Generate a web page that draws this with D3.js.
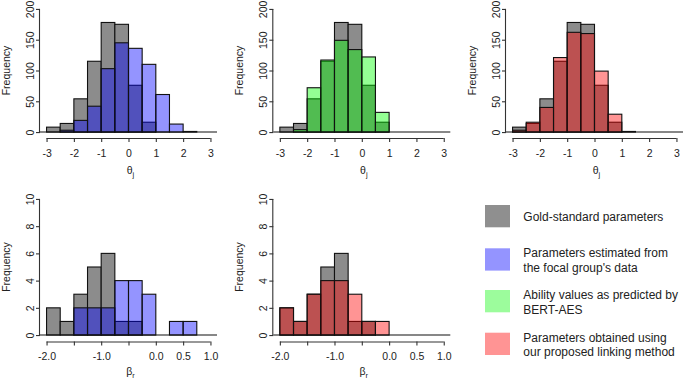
<!DOCTYPE html>
<html>
<head>
<meta charset="utf-8">
<script src="https://cdn.jsdelivr.net/npm/d3@7"></script>
<style>
  html, body { margin: 0; padding: 0; background: #fff; }
  svg { display: block; font-family: "Liberation Sans", Arial, sans-serif; }
</style>
</head>
<body>
<script>
// 直方图的分箱边界
const thetaBreaks = d3.range(-3, 3.01, 0.5);
const betaBreaks = d3.range(-2, 1.01, 0.25);

// 各分箱的频数
const goldTheta  = [8, 14, 54, 115, 178, 175, 76, 16, 0, 0, 0, 0];
const focalTheta = [0, 3, 19, 42, 103, 145, 136, 110, 61, 13, 1, 0];
const bertTheta  = [0, 4, 72, 117, 149, 134, 122, 32, 0, 0, 0, 0];
const linkTheta  = [3, 16, 40, 121, 162, 160, 99, 29, 1, 0, 0, 0];

const goldBeta  = [2, 1, 3, 5, 6, 1, 1, 0, 0, 0, 0, 0];
const focalBeta = [0, 0, 2, 2, 2, 4, 4, 3, 0, 1, 1, 0];
const linkBeta  = [2, 1, 3, 4, 4, 3, 1, 1, 0, 0, 0, 0];

const thetaTicks = [-3, -2, -1, 0, 1, 2, 3];
const thetaYTicks = [0, 50, 100, 150, 200];
const betaTicks = [-2, -1.5, -1, -0.5, 0, 0.5, 1];
const betaTickLabels = ["-2.0", "", "-1.0", "", "0.0", "0.5", "1.0"];
const betaYTicks = [0, 2, 4, 6, 8, 10];

const legendLabels = [
  ["Gold-standard parameters"],
  ["Parameters estimated from", "the focal group's data"],
  ["Ability values as predicted by", "BERT-AES"],
  ["Parameters obtained using", "our proposed linking method"]
];

const colors = {
  gold: "#8c8c8c",
  blue: "#0000ff",
  green: "#00ff00",
  red: "#ff0000"
};
const legendFills = ["#8f8f8f", "#9494ff", "#9cfc9c", "#ff9494"];

const width = 685, height = 381;
const svg = d3.select("body").append("svg")
  .attr("width", width)
  .attr("height", height);

// 每个面板：左边界、x 值域、数据
const panels = [
  { left: 40,    row: 0, xdom: [-3.24, 3.24], breaks: thetaBreaks, over: focalTheta, col: colors.blue },
  { left: 273.3, row: 0, xdom: [-3.24, 3.24], breaks: thetaBreaks, over: bertTheta,  col: colors.green },
  { left: 506,   row: 0, xdom: [-3.24, 3.24], breaks: thetaBreaks, over: linkTheta,  col: colors.red },
  { left: 40,    row: 1, xdom: [-2.12, 1.12], breaks: betaBreaks,  over: focalBeta,  col: colors.blue },
  { left: 273.3, row: 1, xdom: [-2.12, 1.12], breaks: betaBreaks,  over: linkBeta,   col: colors.red }
];

const rows = [
  { ydom: [-8, 208], yrange: [137, 4], axisY: 138, titleDy: 36, gold: goldTheta,
    xticks: thetaTicks, xlabels: thetaTicks.map(String), yticks: thetaYTicks, sym: "θ", sub: "j" },
  { ydom: [-0.4, 10.4], yrange: [340.5, 193.5], axisY: 341.5, titleDy: 33.5, gold: goldBeta,
    xticks: betaTicks, xlabels: betaTickLabels, yticks: betaYTicks, sym: "β", sub: "r" }
];

const panelW = 177;

panels.forEach(p => {
  const r = rows[p.row];
  const x = d3.scaleLinear().domain(p.xdom).range([p.left, p.left + panelW]);
  const y = d3.scaleLinear().domain(r.ydom).range(r.yrange);
  const g = svg.append("g");

  const bins = (counts) => counts.map((c, i) => ({ x0: p.breaks[i], x1: p.breaks[i + 1], c }))
    .filter(d => d.c > 0);

  // 金标准（灰色）
  g.append("g").selectAll("rect")
    .data(bins(r.gold))
    .join("rect")
    .attr("x", d => x(d.x0))
    .attr("width", d => x(d.x1) - x(d.x0))
    .attr("y", d => y(d.c))
    .attr("height", d => y(0) - y(d.c))
    .attr("fill", colors.gold)
    .attr("stroke", "#111")
    .attr("stroke-width", 1.1);

  // 叠加的彩色直方图（半透明）
  g.append("g").selectAll("rect")
    .data(bins(p.over))
    .join("rect")
    .attr("x", d => x(d.x0))
    .attr("width", d => x(d.x1) - x(d.x0))
    .attr("y", d => y(d.c))
    .attr("height", d => y(0) - y(d.c))
    .attr("fill", p.col)
    .attr("fill-opacity", 0.42)
    .attr("stroke", "#111")
    .attr("stroke-width", 1.1);

  // 基线
  g.append("line")
    .attr("x1", x.range()[0]).attr("x2", x.range()[1])
    .attr("y1", y(0)).attr("y2", y(0))
    .attr("stroke", "#111").attr("stroke-width", 1.1);

  // x 轴
  const xa = g.append("g").attr("transform", `translate(0,${r.axisY})`);
  xa.call(d3.axisBottom(x).tickValues(r.xticks).tickSize(4).tickFormat((d, i) => r.xlabels[i]));
  xa.select(".domain").attr("d", `M${x(r.xticks[0])},0.5H${x(r.xticks[r.xticks.length - 1])}`)
    .attr("stroke", "#333").attr("stroke-width", 1.1);
  xa.selectAll(".tick line").attr("stroke", "#333").attr("stroke-width", 1.1);
  xa.selectAll(".tick text").attr("y", 18.5).attr("dy", null)
    .attr("font-size", 10.5).attr("fill", "#222").attr("font-family", null);

  // y 轴
  const ya = g.append("g").attr("transform", `translate(${p.left},0)`);
  ya.call(d3.axisLeft(y).tickValues(r.yticks).tickSize(4));
  ya.select(".domain").attr("d", `M-0.5,${y(r.yticks[0])}V${y(r.yticks[r.yticks.length - 1])}`)
    .attr("stroke", "#333").attr("stroke-width", 1.1);
  ya.selectAll(".tick line").attr("stroke", "#333").attr("stroke-width", 1.1);
  ya.selectAll(".tick text")
    .attr("x", null).attr("dy", null)
    .attr("transform", "translate(-6,0) rotate(-90)")
    .attr("text-anchor", "middle")
    .attr("font-size", 10.5).attr("fill", "#222").attr("font-family", null);

  // 轴标题
  g.append("text")
    .attr("transform", `translate(${p.left - 30},${(r.yrange[0] + r.yrange[1]) / 2}) rotate(-90)`)
    .attr("text-anchor", "middle")
    .attr("font-size", 10.5).attr("fill", "#222")
    .text("Frequency");

  const t = g.append("text")
    .attr("x", (x(r.xticks[0]) + x(r.xticks[r.xticks.length - 1])) / 2 + 2)
    .attr("y", r.axisY + r.titleDy)
    .attr("text-anchor", "middle")
    .attr("font-size", 10.5).attr("fill", "#222");
  t.append("tspan").text(r.sym);
  t.append("tspan").attr("font-size", 7.5).attr("dy", 2.5).text(r.sub);
});

// 图例
const boxY = [205, 248.3, 290, 332.7];
const textY = [[221], [257, 271.5], [298.5, 313.5], [341.5, 355.5]];
const lg = svg.append("g");
legendLabels.forEach((lines, i) => {
  lg.append("rect")
    .attr("x", 485).attr("y", boxY[i])
    .attr("width", 25).attr("height", 22.3)
    .attr("fill", legendFills[i]);
  lines.forEach((s, j) => {
    lg.append("text")
      .attr("x", 523.3).attr("y", textY[i][j])
      .attr("font-size", 12).attr("fill", "#222")
      .text(s);
  });
});
</script>
</body>
</html>
